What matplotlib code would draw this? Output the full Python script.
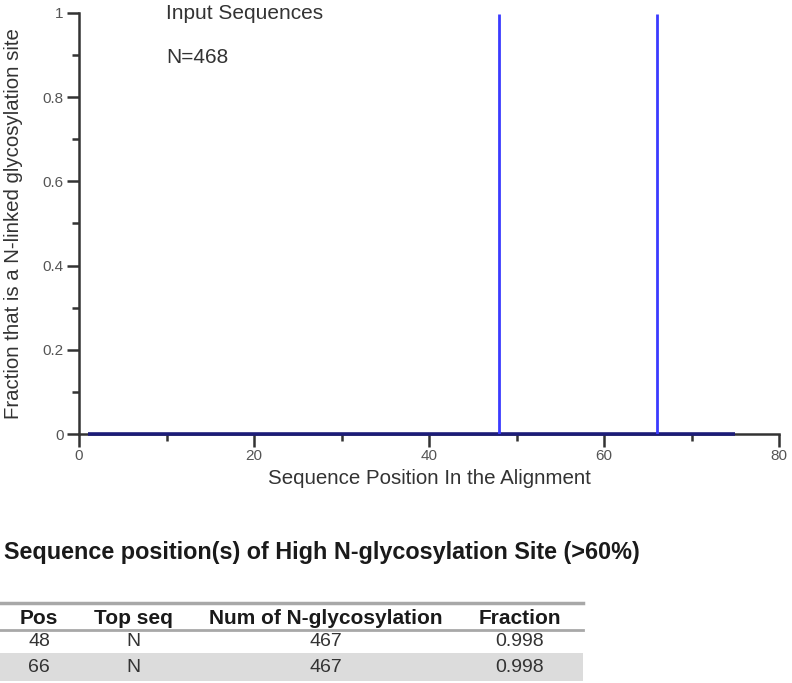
import numpy as np
import matplotlib
matplotlib.use("Agg")
import matplotlib.pyplot as plt
from matplotlib.ticker import MultipleLocator, FuncFormatter

plt.rcParams['font.family'] = ['Liberation Sans', 'DejaVu Sans']

# data
n_positions = 75
site_pos = [48, 66]
site_frac = [0.998, 0.998]
n_seqs = 468

tbl_cols = ["Pos", "Top seq", "Num of N-glycosylation", "Fraction"]
tbl_pos = ["48", "66"]
tbl_top = ["N", "N"]
tbl_num = ["467", "467"]
tbl_frac = ["0.998", "0.998"]

positions = np.arange(1, n_positions + 1)
fraction = np.zeros(n_positions)
for p, f in zip(site_pos, site_frac):
    fraction[p - 1] = f

W, H = 792, 683
fig = plt.figure(figsize=(W / 100, H / 100), dpi=100)
ax = fig.add_axes([79 / W, 1 - 434 / H, 700 / W, 421 / H])

# baseline (positions with zero fraction) and spikes
ax.plot(positions, np.where(fraction > 0, 0, fraction), color='#1c1c78', lw=2.6,
        solid_capstyle='butt', clip_on=False, zorder=3)
nz = fraction > 0
ax.vlines(positions[nz], 0, fraction[nz], color='#3b3bff', lw=2, zorder=4)

ax.set_xlim(0, 80)
ax.set_ylim(0, 1)
for s in ['top', 'right']:
    ax.spines[s].set_visible(False)
for s in ['left', 'bottom']:
    ax.spines[s].set_color('#333333')
    ax.spines[s].set_linewidth(1.8)

ax.xaxis.set_major_locator(MultipleLocator(20))
ax.xaxis.set_minor_locator(MultipleLocator(10))
ax.yaxis.set_major_locator(MultipleLocator(0.2))
ax.yaxis.set_minor_locator(MultipleLocator(0.1))
ax.yaxis.set_major_formatter(FuncFormatter(lambda v, _: '%g' % round(v, 2)))
ax.tick_params(which='major', length=9, width=1.8, color='#333333',
               labelsize=11, labelcolor='#555555', pad=2)
ax.tick_params(which='minor', length=5, width=1.8, color='#333333')

ax.set_xlabel("Sequence Position In the Alignment", fontsize=14.8,
              color='#333333', labelpad=4)
ax.set_ylabel("Fraction that is a N-linked glycosylation site", fontsize=14.7,
              color='#333333', labelpad=14)

ax.text(10, 0.998, "Input Sequences", fontsize=15, color='#333333', va='center')
ax.text(10, 0.895, "N=%d" % n_seqs, fontsize=15, color='#333333', va='center')

# table section drawn in pixel coordinates
tx = fig.add_axes([0, 0, 1, 1], zorder=-1)
tx.set_xlim(0, W)
tx.set_ylim(H, 0)
tx.axis('off')

tx.text(4, 552, "Sequence position(s) of High N-glycosylation Site (>60%)",
        fontsize=16.8, fontweight='bold', color='#1a1a1a', va='center')

col_x = [39, 133, 326, 520]
tbl_right = 583
tx.plot([0, tbl_right], [603, 603], color='#a8a8a8', lw=2.5)
tx.plot([0, tbl_right], [630, 630], color='#a8a8a8', lw=2)
tx.fill_between([0, tbl_right], 653, 681, color='#dcdcdc', lw=0)

for x, c in zip(col_x, tbl_cols):
    tx.text(x, 618, c, fontsize=15, fontweight='bold', color='#1a1a1a',
            ha='center', va='center')
rows_y = [642, 667]
for y, row in zip(rows_y, zip(tbl_pos, tbl_top, tbl_num, tbl_frac)):
    for x, v in zip(col_x, row):
        tx.text(x, y, v, fontsize=14, color='#333333', ha='center', va='center')

fig.savefig("out.png", dpi=100)
